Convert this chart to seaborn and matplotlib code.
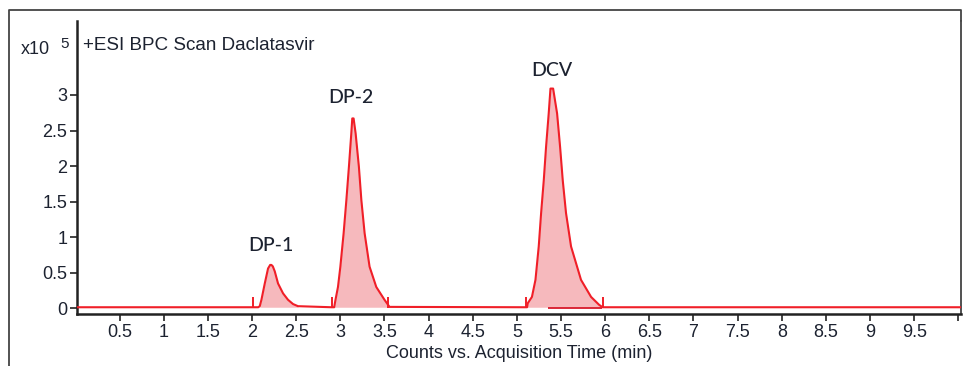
import numpy as np
import pandas as pd
import matplotlib
matplotlib.use("Agg")
import matplotlib.pyplot as plt
import seaborn as sns
from matplotlib.lines import Line2D

# ---------------- data (time in min, intensity in x10^5 counts) ----------------
baseline_level = 0.015

dp1_time = [2.087, 2.106, 2.144, 2.181, 2.205, 2.219, 2.235, 2.257, 2.294, 2.351, 2.407, 2.464, 2.52]
dp1_int = [0.03, 0.12, 0.35, 0.56, 0.61, 0.61, 0.59, 0.52, 0.35, 0.21, 0.12, 0.06, 0.03]

dp2_time = [2.93, 2.945, 2.973, 3.0, 3.037, 3.068, 3.097, 3.124, 3.135, 3.15, 3.173,
            3.21, 3.238, 3.275, 3.331, 3.407, 3.50, 3.557]
dp2_int = [0.015, 0.12, 0.30, 0.585, 1.055, 1.52, 1.99, 2.46, 2.67, 2.67, 2.46,
           1.99, 1.52, 1.055, 0.585, 0.30, 0.12, 0.02]

dcv_time = [5.115, 5.122, 5.17, 5.21, 5.247, 5.274, 5.304, 5.33, 5.36, 5.38, 5.41,
            5.455, 5.489, 5.519, 5.556, 5.613, 5.726, 5.84, 5.93, 5.97]
dcv_int = [0.015, 0.07, 0.16, 0.40, 0.87, 1.34, 1.80, 2.27, 2.74, 3.09, 3.09,
           2.74, 2.27, 1.80, 1.34, 0.87, 0.40, 0.16, 0.05, 0.015]

run_start, run_end = 0.0, 10.05
marker_times = [2.01, 2.905, 3.54, 5.10, 5.97]

peak_labels = ["DP-1", "DP-2", "DCV"]
peak_label_time = [2.21, 3.12, 5.40]
peak_label_int = [0.88, 2.97, 3.35]

y_ticks = [0, 0.5, 1, 1.5, 2, 2.5, 3]
y_tick_labels = ["0", "0.5", "1", "1.5", "2", "2.5", "3"]
x_ticks = [0.5, 1, 1.5, 2, 2.5, 3, 3.5, 4, 4.5, 5, 5.5, 6, 6.5, 7, 7.5, 8, 8.5, 9, 9.5, 10]
x_tick_labels = ["0.5", "1", "1.5", "2", "2.5", "3", "3.5", "4", "4.5", "5", "5.5",
                 "6", "6.5", "7", "7.5", "8", "8.5", "9", "9.5", ""]

title_text = "+ESI BPC Scan Daclatasvir"
x_label = "Counts vs. Acquisition Time (min)"

# ---------------- build trace ----------------
b = baseline_level
trace = pd.DataFrame({
    "time": [run_start, 2.07] + dp1_time + [2.9] + dp2_time + [5.09] + dcv_time + [run_end],
    "intensity": [b, b] + dp1_int + [b] + dp2_int + [b] + dcv_int + [b],
})

sns.set_theme(style="white")
plt.rcParams["font.family"] = ["Liberation Sans", "DejaVu Sans"]

W, H = 963, 366
fig = plt.figure(figsize=(W / 100, H / 100), dpi=100)
ax_left, ax_right, ax_bottom, ax_top = 77, 961, 314, 21
ax = fig.add_axes([ax_left / W, 1 - ax_bottom / H,
                   (ax_right - ax_left) / W, (ax_bottom - ax_top) / H])

red = "#f01f28"
pink = "#f6b9bd"
txt = "#1c2230"

for t, v in [(dp1_time, dp1_int), (dp2_time, dp2_int), (dcv_time, dcv_int)]:
    ax.fill_between(t, b, v, color=pink, lw=0, zorder=1)

sns.lineplot(data=trace, x="time", y="intensity", ax=ax, color=red,
             linewidth=1.5, sort=True, zorder=3)
ax.vlines(marker_times, b - 0.015, b + 0.14, color=red, linewidth=1.4, zorder=3)
ax.hlines(0.0, 5.35, 5.96, color="#d8182a", linewidth=1.3, zorder=2)

for lab, tx, ty in zip(peak_labels, peak_label_time, peak_label_int):
    ax.text(tx, ty, lab, ha="center", va="center", fontsize=14, color=txt,
            family=["Lato", "DejaVu Sans"], fontweight="medium")

ax.set_xlim(0.017, 10.03)
ax.set_ylim(-0.08, 4.04)
ax.set_xticks(x_ticks)
ax.set_xticklabels(x_tick_labels)
ax.set_yticks(y_ticks)
ax.set_yticklabels(y_tick_labels)
ax.tick_params(axis="both", direction="out", length=5, width=1.2, color="#222222",
               labelsize=13, labelcolor=txt, pad=2, left=True, bottom=True)
ax.set_xlabel(x_label, fontsize=13, color=txt, labelpad=3)
ax.set_ylabel("")
ax.spines["top"].set_visible(False)
ax.spines["right"].set_visible(True)
ax.spines["right"].set_color("#333333")
ax.spines["right"].set_linewidth(1.2)
for s in ["left", "bottom"]:
    ax.spines[s].set_color("#222222")
    ax.spines[s].set_linewidth(1.8)

fig.text(83 / W, 1 - 46 / H, title_text, ha="left", va="center", fontsize=13.6, color=txt)
fig.text(50 / W, 1 - 49 / H, "x10", ha="right", va="center", fontsize=13, color=txt)
fig.text(60 / W, 1 - 44 / H, "5", ha="left", va="center", fontsize=11, color=txt)

# outer frame
frame = Line2D([9 / W, 9 / W, 961 / W, 961 / W],
               [0, 1 - 10 / H, 1 - 10 / H, 1 - ax_top / H],
               transform=fig.transFigure, color="#444444", linewidth=1.3)
fig.add_artist(frame)

fig.savefig("out.png", dpi=100)
